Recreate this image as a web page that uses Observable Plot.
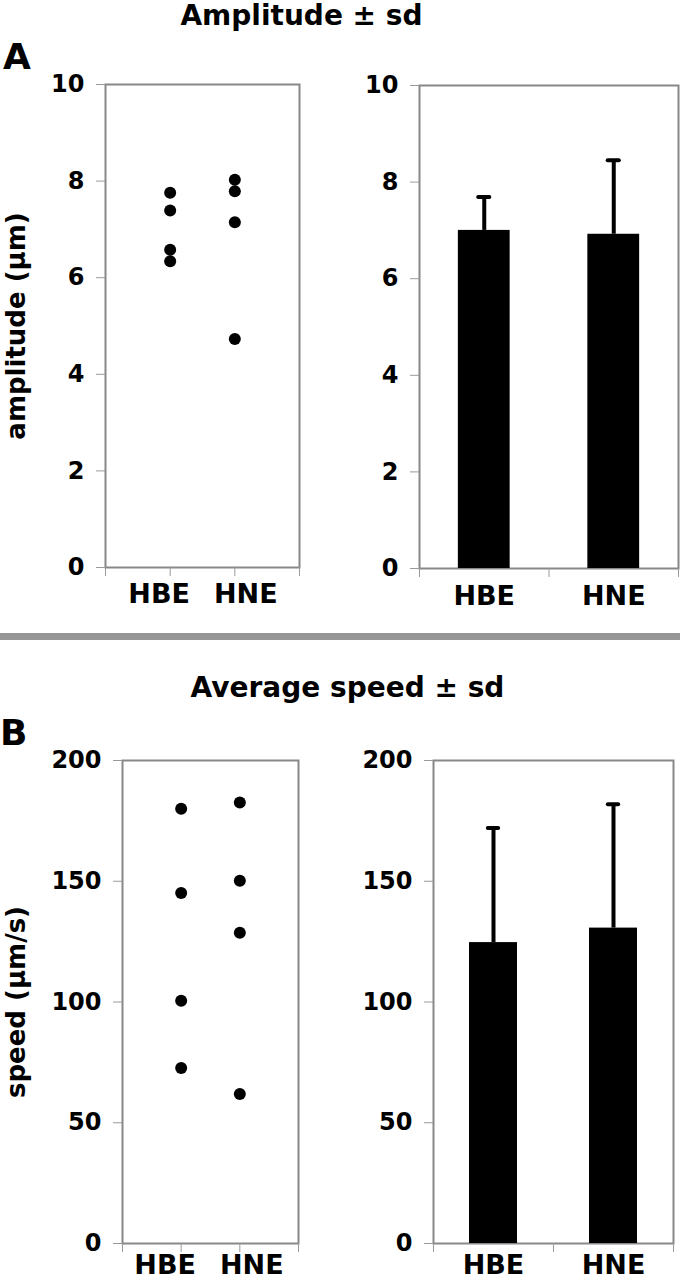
<!DOCTYPE html>
<html>
<head>
<meta charset="utf-8">
<script src="https://cdn.jsdelivr.net/npm/d3@7"></script>
<script src="https://cdn.jsdelivr.net/npm/@observablehq/plot@0.6"></script>
<style>
  html, body { margin: 0; padding: 0; background: #fff; }
  #page { position: relative; width: 680px; height: 1280px; overflow: hidden;
          font-family: "DejaVu Sans", sans-serif; font-weight: bold; color: #000; }
  .abs { position: absolute; line-height: 1; white-space: nowrap; }
  .panel { position: absolute; }
  .panel svg { display: block; overflow: visible; }
</style>
</head>
<body>
<div id="page"></div>
<script>
// ---------- data ----------
const categories = ["HBE", "HNE"];

const amplitudeHBE = [7.76, 7.39, 6.58, 6.34];
const amplitudeHNE = [8.03, 7.79, 7.15, 4.73];
const amplitudeMean = [7.00, 6.92];
const amplitudeSD = [0.69, 1.53];
const amplitudeTicks = [0, 2, 4, 6, 8, 10];

const speedHBE = [180.0, 145.1, 100.5, 72.7];
const speedHNE = [182.6, 150.2, 128.7, 61.9];
const speedMean = [124.6, 130.6];
const speedSD = [47.4, 51.3];
const speedTicks = [0, 50, 100, 150, 200];

const titles = ["Amplitude \u00b1 sd", "Average speed \u00b1 sd"];
const panelLetters = ["A", "B"];
const yLabels = ["amplitude (\u00b5m)", "speed (\u00b5m/s)"];

// ---------- helpers ----------
const page = document.getElementById("page");
const FONT = "DejaVu Sans";
const TICK_GRAY = "#9a9a9a";
const FRAME_GRAY = "#888888";

function addText(txt, css) {
  const d = document.createElement("div");
  d.className = "abs";
  d.textContent = txt;
  Object.assign(d.style, css);
  page.appendChild(d);
}

function place(svg, left, top) {
  const w = document.createElement("div");
  w.className = "panel";
  w.style.left = left + "px";
  w.style.top = top + "px";
  w.appendChild(svg);
  page.appendChild(w);
}

const baseStyle = { fontFamily: FONT, fontWeight: "bold", background: "transparent", color: "black", overflow: "visible" };

function dotTable(a, b) {
  return [
    ...a.map(v => ({ cat: categories[0], v })),
    ...b.map(v => ({ cat: categories[1], v }))
  ];
}
function statTable(means, sds) {
  return categories.map((c, i) => ({ cat: c, i, mean: means[i], sd: sds[i] }));
}

function dotPanel({ values, yDomain, yTicks, yLabel, labelDx, labelPad, size, margins, yLabelDx }) {
  return Plot.plot({
    width: size[0], height: size[1],
    marginLeft: margins[0], marginRight: margins[1], marginTop: margins[2], marginBottom: margins[3],
    style: baseStyle,
    x: { type: "linear", domain: [0, categories.length + 1], axis: null },
    y: { domain: yDomain, axis: null },
    marks: [
      Plot.frame({ stroke: FRAME_GRAY, strokeWidth: 2 }),
      Plot.axisY({ ticks: yTicks, tickSize: 9, tickPadding: 12, stroke: TICK_GRAY, fill: "black",
                   fontSize: 24, fontWeight: "bold", label: null }),
      Plot.axisX({ ticks: d3.range(categories.length + 2), tickFormat: () => "", tickSize: 9,
                   stroke: TICK_GRAY, label: null }),
      ...categories.map((c, i) => Plot.axisX({
        ticks: [i + 1], tickFormat: () => c, tickSize: 0, tickPadding: labelPad, dx: labelDx[i],
        fill: "black", fontSize: 27, fontWeight: "bold", label: null
      })),
      Plot.dot(values, { x: d => categories.indexOf(d.cat) + 1, y: "v", r: 6, fill: "black", stroke: "none" }),
      Plot.text([yLabel], { text: d => d, frameAnchor: "left", textAnchor: "middle", lineAnchor: "middle",
                            dx: yLabelDx, rotate: -90, fontSize: 26, fontWeight: "bold", fill: "black" })
    ]
  });
}

function barPanel({ stats, yDomain, yTicks, labelPad, size, margins }) {
  return Plot.plot({
    width: size[0], height: size[1],
    marginLeft: margins[0], marginRight: margins[1], marginTop: margins[2], marginBottom: margins[3],
    style: baseStyle,
    x: { type: "linear", domain: [0, categories.length], axis: null },
    y: { domain: yDomain, axis: null },
    marks: [
      Plot.frame({ stroke: FRAME_GRAY, strokeWidth: 2 }),
      Plot.axisY({ ticks: yTicks, tickSize: 9, tickPadding: 12, stroke: TICK_GRAY, fill: "black",
                   fontSize: 24, fontWeight: "bold", label: null }),
      Plot.axisX({ ticks: d3.range(categories.length + 1), tickFormat: () => "", tickSize: 9,
                   stroke: TICK_GRAY, label: null }),
      Plot.axisX({ ticks: categories.map((c, i) => i + 0.5), tickFormat: d => categories[Math.floor(d)],
                   tickSize: 0, tickPadding: labelPad, fill: "black", fontSize: 27, fontWeight: "bold", label: null }),
      Plot.rect(stats, { x1: d => d.i + 0.3, x2: d => d.i + 0.7, y1: 0, y2: "mean", fill: "black" }),
      Plot.ruleX(stats, { x: d => d.i + 0.5, y1: "mean", y2: d => d.mean + d.sd, stroke: "black", strokeWidth: 4 }),
      Plot.ruleY(stats, { y: d => d.mean + d.sd, x1: d => d.i + 0.5 - 0.043, x2: d => d.i + 0.5 + 0.043,
                          stroke: "black", strokeWidth: 4, strokeLinecap: "round" })
    ]
  });
}

// ---------- titles, letters, separator ----------
addText(titles[0], { left: "101.5px", width: "400px", textAlign: "center", top: "2px", fontSize: "28px" });
addText(titles[1], { left: "147.5px", width: "400px", textAlign: "center", top: "674px", fontSize: "28px" });
addText(panelLetters[0], { left: "3px", top: "38.5px", fontSize: "36px" });
addText(panelLetters[1], { left: "0px", top: "714.5px", fontSize: "36px" });
const sep = document.createElement("div");
Object.assign(sep.style, { position: "absolute", left: "0px", top: "633px", width: "680px", height: "7px", background: "#969696" });
page.appendChild(sep);

// ---------- panels ----------
place(dotPanel({
  values: dotTable(amplitudeHBE, amplitudeHNE), yDomain: [0, 10], yTicks: amplitudeTicks,
  yLabel: yLabels[0], labelDx: [-11, 11], labelPad: 16, yLabelDx: -89,
  size: [340, 630], margins: [105, 41, 84, 63]
}), 0, 0);

place(barPanel({
  stats: statTable(amplitudeMean, amplitudeSD), yDomain: [0, 10], yTicks: amplitudeTicks,
  labelPad: 17, size: [340, 630], margins: [79, 2, 85, 62]
}), 340, 0);

place(dotPanel({
  values: dotTable(speedHBE, speedHNE), yDomain: [0, 200], yTicks: speedTicks,
  yLabel: yLabels[1], labelDx: [-16, 12], labelPad: 11, yLabelDx: -106,
  size: [340, 635], margins: [122, 42, 115, 37]
}), 0, 645);

place(barPanel({
  stats: statTable(speedMean, speedSD), yDomain: [0, 200], yTicks: speedTicks,
  labelPad: 11, size: [340, 635], margins: [93, 7, 115, 37]
}), 340, 645);
</script>
</body>
</html>
